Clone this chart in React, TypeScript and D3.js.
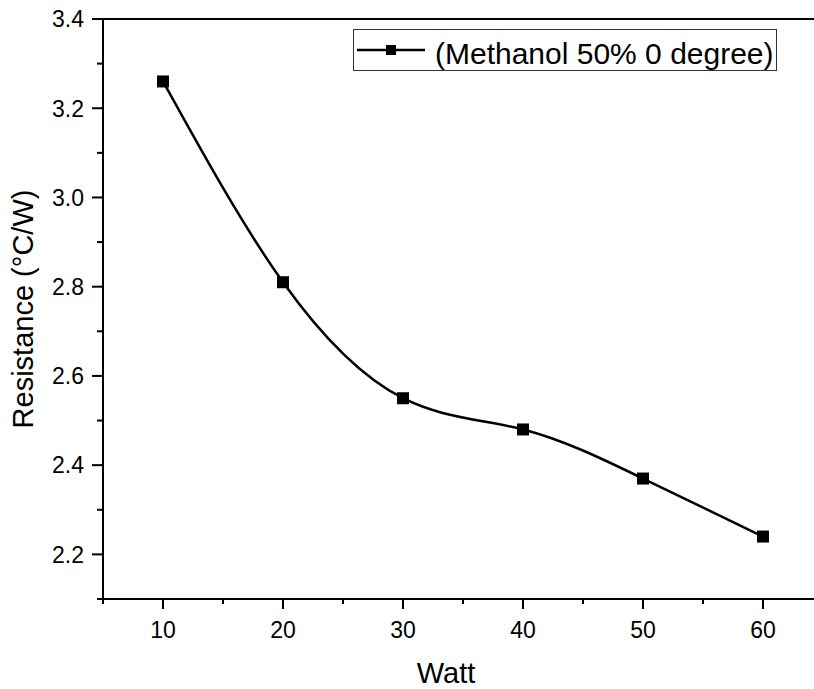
import React from "react";
import * as d3 from "d3";

const watts = [10, 20, 30, 40, 50, 60];
const resistance = [3.26, 2.81, 2.55, 2.48, 2.37, 2.24];
const xTicks = [10, 20, 30, 40, 50, 60];
const xMinorTicks = [5, 15, 25, 35, 45, 55, 65];
const yTicks = [2.2, 2.4, 2.6, 2.8, 3.0, 3.2, 3.4];
const yMinorTicks = [2.1, 2.3, 2.5, 2.7, 2.9, 3.1, 3.3];
const seriesName = "(Methanol 50% 0 degree)";
const xTitle = "Watt";
const yTitle = "Resistance (°C/W)";

const W = 814;
const H = 689;
const left = 103;
const right = 823;
const top = 19;
const bottom = 599;
const font = "'Liberation Sans', Arial, sans-serif";

export default function App() {
  const x = d3.scaleLinear().domain([5, 65]).range([left, right]);
  const y = d3.scaleLinear().domain([2.1, 3.4]).range([bottom, top]);
  const pts: [number, number][] = watts.map((w, i) => [x(w), y(resistance[i])]);
  const line = d3.line().curve(d3.curveNatural)(pts) || "";
  const ms = 12;

  return (
    <svg width={W} height={H} style={{ position: "absolute", left: 0, top: 0, background: "#fff" }}>
      <rect x={0} y={0} width={W} height={H} fill="#fff" />
      {/* axes */}
      <line x1={left} x2={W} y1={top} y2={top} stroke="#000" strokeWidth={2} />
      <line x1={left} x2={left} y1={top - 1} y2={bottom + 1} stroke="#000" strokeWidth={2} />
      <line x1={left - 1} x2={W} y1={bottom} y2={bottom} stroke="#000" strokeWidth={2} />
      {xTicks.map((t) => (
        <g key={"xt" + t}>
          <line x1={x(t)} x2={x(t)} y1={bottom} y2={bottom + 10} stroke="#000" strokeWidth={2} />
          <text x={x(t)} y={638} textAnchor="middle" fontFamily={font} fontSize={23} fill="#000">
            {t}
          </text>
        </g>
      ))}
      {xMinorTicks.map((t) => (
        <line key={"xm" + t} x1={x(t)} x2={x(t)} y1={bottom} y2={bottom + 5} stroke="#000" strokeWidth={2} />
      ))}
      {yTicks.map((t) => (
        <g key={"yt" + t}>
          <line x1={left - 11} x2={left} y1={y(t)} y2={y(t)} stroke="#000" strokeWidth={2} />
          <text x={84} y={y(t)} dy="0.36em" textAnchor="end" fontFamily={font} fontSize={23} fill="#000">
            {t.toFixed(1)}
          </text>
        </g>
      ))}
      {yMinorTicks.map((t) => (
        <line key={"ym" + t} x1={left - 6} x2={left} y1={y(t)} y2={y(t)} stroke="#000" strokeWidth={2} />
      ))}
      {/* titles */}
      <text x={446} y={683} textAnchor="middle" fontFamily={font} fontSize={29} fill="#000">
        {xTitle}
      </text>
      <text
        transform={`translate(33, ${(top + bottom) / 2}) rotate(-90)`}
        textAnchor="middle"
        fontFamily={font}
        fontSize={29}
        fill="#000"
      >
        {yTitle}
      </text>
      {/* series */}
      <path d={line} fill="none" stroke="#000" strokeWidth={2.5} />
      {pts.map(([px, py], i) => (
        <rect key={"m" + i} x={px - ms / 2} y={py - ms / 2} width={ms} height={ms} fill="#000" />
      ))}
      {/* legend */}
      <rect x={353.5} y={29.5} width={423} height={41} fill="#fff" stroke="#333" strokeWidth={1} />
      <line x1={357} x2={425} y1={50} y2={50} stroke="#000" strokeWidth={2.5} />
      <rect x={386} y={45} width={10} height={10} fill="#000" />
      <text x={435} y={64} fontFamily={font} fontSize={30} fill="#000">
        {seriesName}
      </text>
    </svg>
  );
}
